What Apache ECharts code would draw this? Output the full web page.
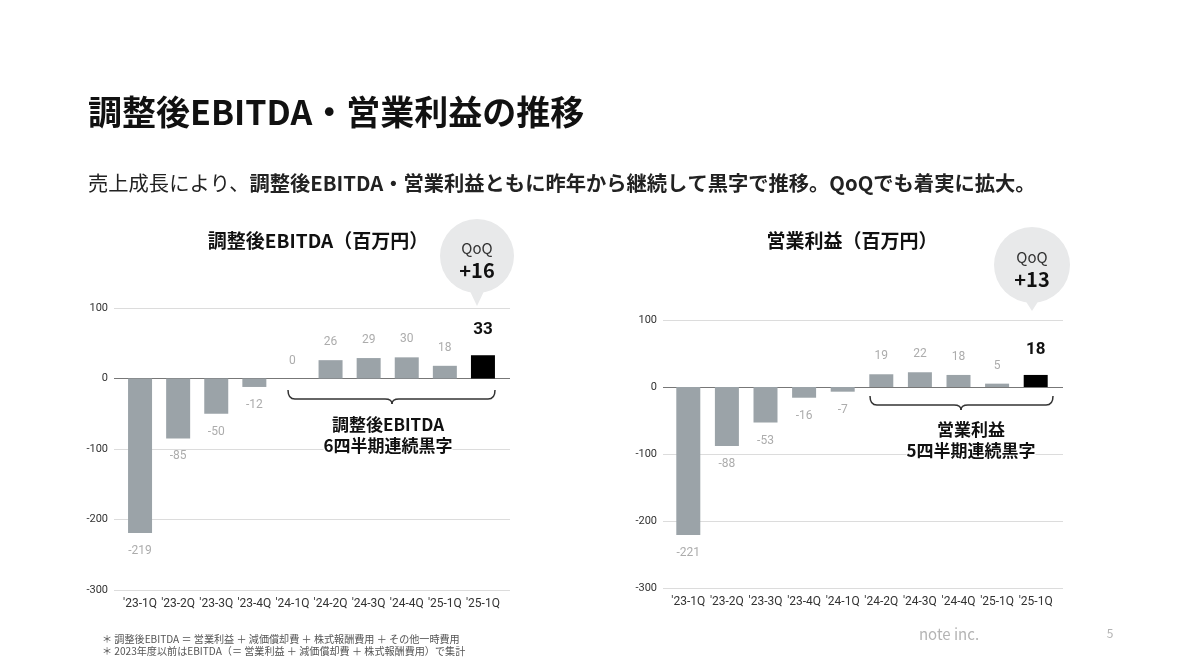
<!DOCTYPE html>
<html>
<head>
<meta charset="utf-8">
<script src="https://cdn.jsdelivr.net/npm/echarts@6/dist/echarts.min.js"></script>
<style>
  html, body { margin: 0; padding: 0; background: #fff; }
  #chart { width: 1200px; height: 670px; }
</style>
</head>
<body>
<div id="chart"></div>
<script>
var categories = ["'23-1Q", "'23-2Q", "'23-3Q", "'23-4Q", "'24-1Q", "'24-2Q", "'24-3Q", "'24-4Q", "'25-1Q", "'25-1Q"];
var ebitdaValues = [-219, -85, -50, -12, 0, 26, 29, 30, 18, 33];
var opProfitValues = [-221, -88, -53, -16, -7, 19, 22, 18, 5, 18];
var yMin = -300, yMax = 100, yStep = 100;

var jp = '"Noto Sans CJK JP", "Noto Sans", sans-serif';
var num = 'Roboto, "Noto Sans", sans-serif';
var barGray = '#9ba3a8';

var chart = echarts.init(document.getElementById('chart'));

function barData(values) {
  return values.map(function (v, i) {
    var last = i === values.length - 1;
    return {
      value: v,
      itemStyle: { color: last ? '#000' : barGray },
      label: last ? {
        position: 'top', distance: 17, color: '#111', fontSize: 17, fontWeight: 'bold', fontFamily: num
      } : {
        position: v < 0 ? 'bottom' : 'top', distance: 12
      }
    };
  });
}

function barSeries(values, grid) {
  return {
    type: 'bar',
    xAxisIndex: grid, yAxisIndex: grid,
    data: barData(values),
    barWidth: 24,
    label: { show: true, color: '#acacac', fontSize: 12, fontFamily: num },
    silent: true
  };
}

// curly brace under the profitable quarters
function brace(x0, x1, y, h, xm) {
  var r = 7, ym = y + h * 0.65;
  var st = { stroke: '#333', lineWidth: 1.5, fill: null };
  return {
    type: 'group',
    children: [
      { type: 'bezierCurve', shape: { x1: x0, y1: y, cpx1: x0, cpy1: ym, x2: x0 + r, y2: ym }, style: st },
      { type: 'line', shape: { x1: x0 + r, y1: ym, x2: xm - r, y2: ym }, style: st },
      { type: 'bezierCurve', shape: { x1: xm - r, y1: ym, cpx1: xm, cpy1: ym, x2: xm, y2: y + h }, style: st },
      { type: 'bezierCurve', shape: { x1: xm, y1: y + h, cpx1: xm, cpy1: ym, x2: xm + r, y2: ym }, style: st },
      { type: 'line', shape: { x1: xm + r, y1: ym, x2: x1 - r, y2: ym }, style: st },
      { type: 'bezierCurve', shape: { x1: x1 - r, y1: ym, cpx1: x1, cpy1: ym, x2: x1, y2: y }, style: st }
    ]
  };
}

function bubble(cx, cy, r, tipY, big) {
  return {
    type: 'group',
    children: [
      { type: 'circle', shape: { cx: cx, cy: cy, r: r }, style: { fill: '#e8e9ea' } },
      { type: 'polygon', shape: { points: [[cx - 9, cy + r - 6], [cx + 9, cy + r - 6], [cx, tipY]] }, style: { fill: '#e8e9ea' } },
      { type: 'text', x: cx, y: cy - 8, style: { text: 'QoQ', fontSize: 15, fill: '#333', fontFamily: jp, align: 'center', verticalAlign: 'middle' } },
      { type: 'text', x: cx, y: cy + 14, style: { text: big, fontSize: 20, fontWeight: 'bold', fill: '#111', fontFamily: jp, align: 'center', verticalAlign: 'middle' } }
    ]
  };
}

function textAt(x, y, text, size, weight, color, align, bg) {
  var el = { type: 'text', x: x, y: y, style: { text: text, fontSize: size, fontWeight: weight, fill: color, fontFamily: jp, align: align || 'center', verticalAlign: 'middle' } };
  if (bg) { el.style.backgroundColor = bg; el.z = 10; }
  return el;
}

var xAxes = [], yAxes = [];
// grid 0 / 2 : bars, grid 1 / 3 : wider gridlines + y labels
var grids = [
  { left: 121, top: 308, width: 381, height: 282 },
  { left: 114, top: 308, width: 396, height: 282 },
  { left: 669, top: 320, width: 386, height: 268 },
  { left: 663, top: 320, width: 400, height: 268 }
];
[0, 2].forEach(function (g) {
  xAxes[g] = {
    type: 'category', gridIndex: g, data: categories, position: 'bottom',
    axisLine: { show: false }, axisTick: { show: false },
    axisLabel: { color: '#333', fontSize: 12, fontFamily: num, margin: 8, interval: 0 }
  };
  yAxes[g] = {
    type: 'value', gridIndex: g, min: yMin, max: yMax, interval: yStep,
    axisLabel: { show: false }, splitLine: { show: false }, axisLine: { show: false }, axisTick: { show: false }
  };
});
[1, 3].forEach(function (g) {
  xAxes[g] = { type: 'value', gridIndex: g, min: 0, max: 1, show: false };
  yAxes[g] = {
    type: 'value', gridIndex: g, min: yMin, max: yMax, interval: yStep,
    axisLine: { show: false }, axisTick: { show: false },
    axisLabel: { color: '#333', fontSize: 11, fontFamily: num, margin: 6 },
    splitLine: { lineStyle: { color: ['#dcdcdc', '#dcdcdc', '#dcdcdc', '#777', '#dcdcdc'], width: 1.2 } }
  };
});

var option = {
  animation: false,
  grid: grids,
  xAxis: xAxes,
  yAxis: yAxes,
  series: [barSeries(ebitdaValues, 0), barSeries(opProfitValues, 2)],
  graphic: [
    textAt(88, 112, '調整後EBITDA・営業利益の推移', 34, 'bold', '#111', 'left'),
    {
      type: 'text', x: 88, y: 183,
      style: {
        text: '{a|売上成長により、}{b|調整後EBITDA・営業利益ともに昨年から継続して黒字で推移。QoQでも着実に拡大。}',
        fontFamily: jp, fill: '#222', verticalAlign: 'middle',
        rich: {
          a: { fontSize: 20.3, fontWeight: 'normal', fontFamily: jp, color: '#222' },
          b: { fontSize: 20.3, fontWeight: 'bold', fontFamily: jp, color: '#111' }
        }
      }
    },
    textAt(318, 241, '調整後EBITDA（百万円）', 19, 'bold', '#111'),
    textAt(852, 241, '営業利益（百万円）', 19, 'bold', '#111'),
    bubble(477, 256, 37, 306, '+16'),
    bubble(1032, 265, 38, 311, '+13'),
    brace(288, 495, 390, 14, 392),
    brace(870, 1053, 396, 14, 961),
    textAt(388, 425, '調整後EBITDA', 17, 'bold', '#111', 'center', '#fff'),
    textAt(388, 446, '6四半期連続黒字', 17, 'bold', '#111', 'center', '#fff'),
    textAt(971, 430, '営業利益', 17, 'bold', '#111', 'center', '#fff'),
    textAt(971, 451, '5四半期連続黒字', 17, 'bold', '#111', 'center', '#fff'),
    textAt(102, 639, '＊ 調整後EBITDA ＝ 営業利益 ＋ 減価償却費 ＋ 株式報酬費用 ＋ その他一時費用', 10.1, 'normal', '#555', 'left'),
    textAt(102, 651, '＊ 2023年度以前はEBITDA（＝ 営業利益 ＋ 減価償却費 ＋ 株式報酬費用）で集計', 10.1, 'normal', '#555', 'left'),
    textAt(949, 634, 'note inc.', 15, 'normal', '#b4b4b4'),
    textAt(1110, 633, '5', 12, 'normal', '#b4b4b4')
  ]
};

chart.setOption(option);
</script>
</body>
</html>
